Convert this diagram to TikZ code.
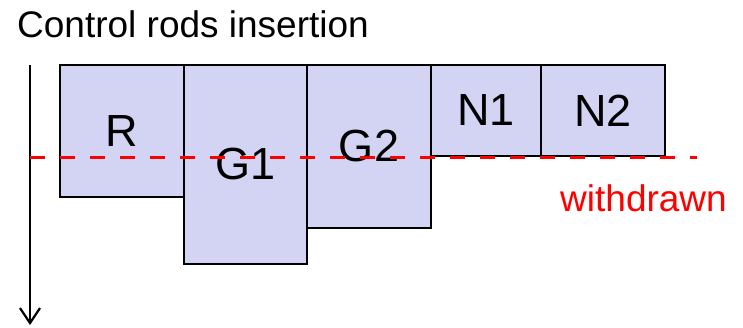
\documentclass[tikz,border=0pt]{standalone}
\usepackage{fontspec}
\setmainfont{Liberation Sans}
\usetikzlibrary{arrows.meta, positioning}
\definecolor{rodblue}{RGB}{211,211,243}

\begin{document}
\begin{tikzpicture}[x=1pt, y=-1pt,
  rod/.style={rectangle, draw=black, line width=1.5pt, fill=rodblue, inner sep=0pt, outer sep=0pt, anchor=north west, font=\fontsize{45}{45}\selectfont},
  big/.style={inner sep=0pt, font=\fontsize{37}{37}\selectfont}]
\useasboundingbox (0,0) rectangle (743,327);
\node[big, anchor=base west] (title) at (17,37) {Control rods insertion};
% rods, each hanging from the top right corner of the one before
\node[rod, minimum width=124pt, minimum height=132pt] (R) at (60,65) {R};
\node[rod, minimum width=123pt, minimum height=199pt] (G1) at (R.north east) {G1};
\node[rod, minimum width=124pt, minimum height=163pt] (G2) at (G1.north east) {G2};
\node[rod, minimum width=110pt, minimum height=91pt] (N1) at (G2.north east) {N1};
\node[rod, minimum width=124pt, minimum height=91pt] (N2) at (N1.north east) {N2};
% insertion axis
\coordinate (ins_top) at (30,65);
\coordinate (ins_bot) at (30,325);
\draw[-{Straight Barb[length=15pt,width=20pt]}, line width=2.2pt] (ins_top) -- (ins_bot);
% withdrawn level
\coordinate (wd_start) at (30,157);
\coordinate (wd_end) at (697,157);
\draw[red, line width=3pt, dash pattern=on 15pt off 15pt] (wd_start) -- (wd_end);
\node[big, text=red, anchor=base east] (withdrawn) at (727,211) {withdrawn};
\end{tikzpicture}
\end{document}
